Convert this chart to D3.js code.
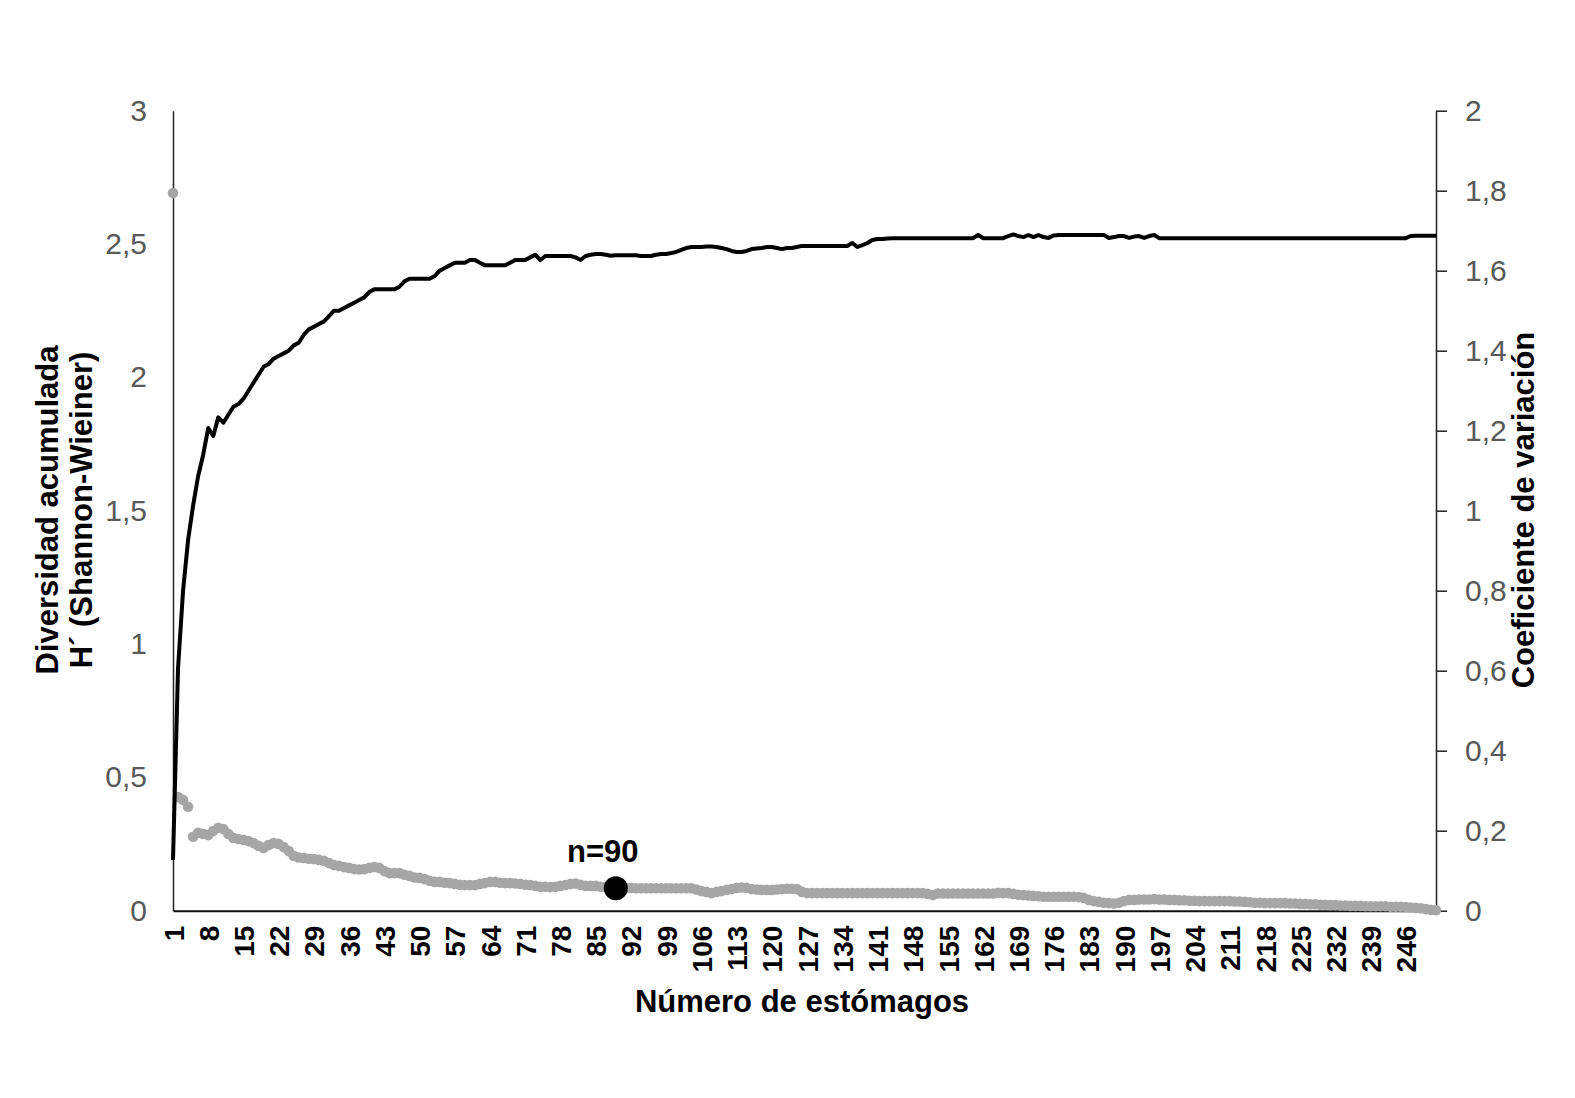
<!DOCTYPE html>
<html>
<head>
<meta charset="utf-8">
<script src="https://cdn.jsdelivr.net/npm/d3@7"></script>
<style>
  body { margin: 0; background: #fff; }
  svg text { font-family: "Liberation Sans", Arial, sans-serif; }
</style>
</head>
<body>
<div id="chart"></div>
<script>
// Shannon-Wiener cumulative diversity (left axis), one value per stomach 1..252
var diversidad = [
  0.19, 0.91, 1.20, 1.39, 1.52, 1.63, 1.71, 1.81, 1.78, 1.85,
  1.83, 1.86, 1.89, 1.90, 1.92, 1.95, 1.98, 2.01, 2.04, 2.05,
  2.07, 2.08, 2.09, 2.10, 2.12, 2.13, 2.16, 2.18, 2.19, 2.20,
  2.21, 2.23, 2.25, 2.25, 2.26, 2.27, 2.28, 2.29, 2.30, 2.32,
  2.33, 2.33, 2.33, 2.33, 2.33, 2.34, 2.36, 2.37, 2.37, 2.37,
  2.37, 2.37, 2.38, 2.40, 2.41, 2.42, 2.43, 2.43, 2.43, 2.44,
  2.44, 2.43, 2.42, 2.42, 2.42, 2.42, 2.42, 2.43, 2.44, 2.44,
  2.44, 2.45, 2.46, 2.44, 2.455, 2.455, 2.455, 2.455, 2.455, 2.455,
  2.45, 2.44, 2.455, 2.46, 2.463, 2.463, 2.46, 2.456, 2.458, 2.458,
  2.458, 2.458, 2.458, 2.455, 2.455, 2.455, 2.46, 2.463, 2.463, 2.466,
  2.47, 2.478, 2.485, 2.489, 2.489, 2.489, 2.491, 2.491, 2.489, 2.485,
  2.481, 2.474, 2.47, 2.47, 2.474, 2.481, 2.483, 2.485, 2.489, 2.489,
  2.485, 2.481, 2.485, 2.485, 2.489, 2.493, 2.493, 2.493, 2.493, 2.493,
  2.493, 2.493, 2.493, 2.493, 2.493, 2.504, 2.489, 2.496, 2.504, 2.515,
  2.519, 2.519, 2.521, 2.522, 2.522, 2.522, 2.522, 2.522, 2.522, 2.522,
  2.522, 2.522, 2.522, 2.522, 2.522, 2.522, 2.522, 2.522, 2.522, 2.522,
  2.534, 2.522, 2.522, 2.522, 2.522, 2.522, 2.530, 2.536, 2.530, 2.526,
  2.534, 2.526, 2.534, 2.526, 2.523, 2.532, 2.534, 2.534, 2.534, 2.534,
  2.534, 2.534, 2.534, 2.534, 2.534, 2.534, 2.523, 2.526, 2.530, 2.530,
  2.523, 2.528, 2.530, 2.523, 2.530, 2.534, 2.522, 2.522, 2.522, 2.522,
  2.522, 2.522, 2.522, 2.522, 2.522, 2.522, 2.522, 2.522, 2.522, 2.522,
  2.522, 2.522, 2.522, 2.522, 2.522, 2.522, 2.522, 2.522, 2.522, 2.522,
  2.522, 2.522, 2.522, 2.522, 2.522, 2.522, 2.522, 2.522, 2.522, 2.522,
  2.522, 2.522, 2.522, 2.522, 2.522, 2.522, 2.522, 2.522, 2.522, 2.522,
  2.522, 2.522, 2.522, 2.522, 2.522, 2.522, 2.530, 2.531, 2.531, 2.531,
  2.531, 2.531
];

// coefficient of variation (right axis)
var coefVariacion = [
  1.794, 0.284, 0.277, 0.260, 0.185, 0.195, 0.192, 0.189, 0.199, 0.207,
  0.204, 0.192, 0.182, 0.179, 0.177, 0.174, 0.169, 0.162, 0.157, 0.164,
  0.169, 0.167, 0.159, 0.149, 0.137, 0.133, 0.132, 0.130, 0.129, 0.127,
  0.125, 0.119, 0.114, 0.112, 0.109, 0.107, 0.104, 0.103, 0.104, 0.107,
  0.109, 0.107, 0.099, 0.094, 0.094, 0.094, 0.090, 0.087, 0.083, 0.082,
  0.079, 0.075, 0.072, 0.072, 0.070, 0.069, 0.067, 0.065, 0.064, 0.064,
  0.064, 0.067, 0.069, 0.072, 0.072, 0.070, 0.069, 0.069, 0.068, 0.067,
  0.065, 0.064, 0.062, 0.060, 0.060, 0.059, 0.060, 0.062, 0.064, 0.067,
  0.068, 0.065, 0.062, 0.062, 0.062, 0.060, 0.059, 0.059, 0.058, 0.058,
  0.057, 0.057, 0.056, 0.056, 0.056, 0.056, 0.056, 0.056, 0.056, 0.056,
  0.056, 0.056, 0.056, 0.056, 0.053, 0.049, 0.047, 0.044, 0.047, 0.049,
  0.052, 0.054, 0.057, 0.058, 0.057, 0.054, 0.053, 0.052, 0.052, 0.052,
  0.053, 0.054, 0.055, 0.055, 0.054, 0.047, 0.044, 0.044, 0.044, 0.044,
  0.044, 0.044, 0.044, 0.044, 0.044, 0.044, 0.044, 0.044, 0.044, 0.044,
  0.044, 0.044, 0.044, 0.044, 0.044, 0.044, 0.044, 0.044, 0.044, 0.044,
  0.042, 0.039, 0.043, 0.043, 0.043, 0.043, 0.043, 0.043, 0.043, 0.043,
  0.043, 0.043, 0.043, 0.043, 0.045, 0.044, 0.044, 0.042, 0.040, 0.039,
  0.038, 0.037, 0.036, 0.035, 0.035, 0.035, 0.035, 0.035, 0.035, 0.035,
  0.034, 0.032, 0.027, 0.024, 0.022, 0.020, 0.019, 0.018, 0.020, 0.024,
  0.027, 0.027, 0.028, 0.028, 0.028, 0.029, 0.028, 0.028, 0.027, 0.027,
  0.026, 0.026, 0.025, 0.025, 0.024, 0.024, 0.024, 0.024, 0.024, 0.024,
  0.024, 0.023, 0.023, 0.022, 0.021, 0.020, 0.020, 0.019, 0.019, 0.019,
  0.019, 0.019, 0.018, 0.018, 0.017, 0.017, 0.016, 0.016, 0.015, 0.015,
  0.014, 0.014, 0.013, 0.013, 0.012, 0.012, 0.012, 0.011, 0.011, 0.011,
  0.011, 0.011, 0.010, 0.010, 0.010, 0.009, 0.008, 0.007, 0.006, 0.004,
  0.002, 0.001
];

var estomagos = d3.range(1, diversidad.length + 1);   // 1..252
var xTickValues = d3.range(1, 253, 7);                // 1, 8, 15 ... 246
var leftTicks = [0, 0.5, 1, 1.5, 2, 2.5, 3];
var rightTicks = [0, 0.2, 0.4, 0.6, 0.8, 1, 1.2, 1.4, 1.6, 1.8, 2];

// highlighted point
var marcaN = 89;
var marcaValor = 0.056;
var marcaTexto = "n=90";

var width = 1575;
var height = 1098;

var svg = d3.select("#chart")
    .append("svg")
    .attr("width", width)
    .attr("height", height);

// plot area
var plotLeft = 173, plotRight = 1436, plotTop = 110.7, plotBottom = 910.7;

var x = d3.scalePoint()
    .domain(estomagos)
    .range([plotLeft, plotRight]);

var yLeft = d3.scaleLinear()
    .domain([0, 3])
    .range([plotBottom, plotTop]);

var yRight = d3.scaleLinear()
    .domain([0, 2])
    .range([plotBottom, plotTop]);

var coma = d => String(d).replace(".", ",");

// left axis (no tick marks)
var gLeft = svg.append("g")
    .attr("transform", "translate(" + plotLeft + ",0)")
    .call(d3.axisLeft(yLeft).tickValues(leftTicks).tickFormat(coma)
        .tickSize(0).tickPadding(26));
gLeft.select(".domain").attr("stroke", "#222").attr("stroke-width", 1.5);
gLeft.selectAll("text")
    .attr("fill", "#595959")
    .style("font-size", "30px");

// right axis
var gRight = svg.append("g")
    .attr("transform", "translate(" + plotRight + ",0)")
    .call(d3.axisRight(yRight).tickValues(rightTicks).tickFormat(coma)
        .tickSizeInner(11).tickSizeOuter(0).tickPadding(18));
gRight.select(".domain").attr("stroke", "#222").attr("stroke-width", 1.5);
gRight.selectAll("line").attr("stroke", "#222").attr("stroke-width", 1.5);
gRight.selectAll("text")
    .attr("fill", "#595959")
    .style("font-size", "30px");

// bottom axis, rotated labels
var gBottom = svg.append("g")
    .attr("transform", "translate(0," + plotBottom + ")")
    .call(d3.axisBottom(x).tickValues(xTickValues).tickSize(0).tickSizeOuter(0));
gBottom.select(".domain").attr("stroke", "#111").attr("stroke-width", 2);
gBottom.selectAll("text")
    .attr("transform", "rotate(-90)")
    .attr("x", -15)
    .attr("y", 0)
    .attr("dy", "0.36em")
    .style("text-anchor", "end")
    .style("font-size", "28px")
    .style("font-weight", "bold")
    .attr("fill", "#000");

// coefficient of variation: grey markers
svg.append("g")
    .selectAll("circle")
    .data(coefVariacion)
    .join("circle")
    .attr("cx", (d, i) => x(estomagos[i]))
    .attr("cy", d => yRight(d))
    .attr("r", 5.3)
    .attr("fill", "#a6a6a6");

// diversity line
var line = d3.line()
    .x((d, i) => x(estomagos[i]))
    .y(d => yLeft(d));

svg.append("path")
    .datum(diversidad)
    .attr("d", line)
    .attr("fill", "none")
    .attr("stroke", "#000")
    .attr("stroke-width", 4)
    .attr("stroke-linejoin", "round");

// n=90 marker
svg.append("circle")
    .attr("cx", x(marcaN))
    .attr("cy", yRight(marcaValor))
    .attr("r", 12)
    .attr("fill", "#000");

svg.append("text")
    .attr("x", x(marcaN) - 13)
    .attr("y", 862)
    .attr("text-anchor", "middle")
    .style("font-size", "31px")
    .style("font-weight", "bold")
    .text(marcaTexto);

// titles
svg.append("text")
    .attr("x", 802)
    .attr("y", 1012)
    .attr("text-anchor", "middle")
    .style("font-size", "31px")
    .style("font-weight", "bold")
    .text("Número de estómagos");

svg.append("text")
    .attr("transform", "translate(47,510) rotate(-90)")
    .attr("dy", "0.36em")
    .attr("text-anchor", "middle")
    .style("font-size", "31px")
    .style("font-weight", "bold")
    .text("Diversidad acumulada");

svg.append("text")
    .attr("transform", "translate(81,510) rotate(-90)")
    .attr("dy", "0.36em")
    .attr("text-anchor", "middle")
    .style("font-size", "31px")
    .style("font-weight", "bold")
    .text("H´ (Shannon-Wieiner)");

svg.append("text")
    .attr("transform", "translate(1523,510) rotate(-90)")
    .attr("dy", "0.36em")
    .attr("text-anchor", "middle")
    .style("font-size", "31px")
    .style("font-weight", "bold")
    .text("Coeficiente de variación");
</script>
</body>
</html>
